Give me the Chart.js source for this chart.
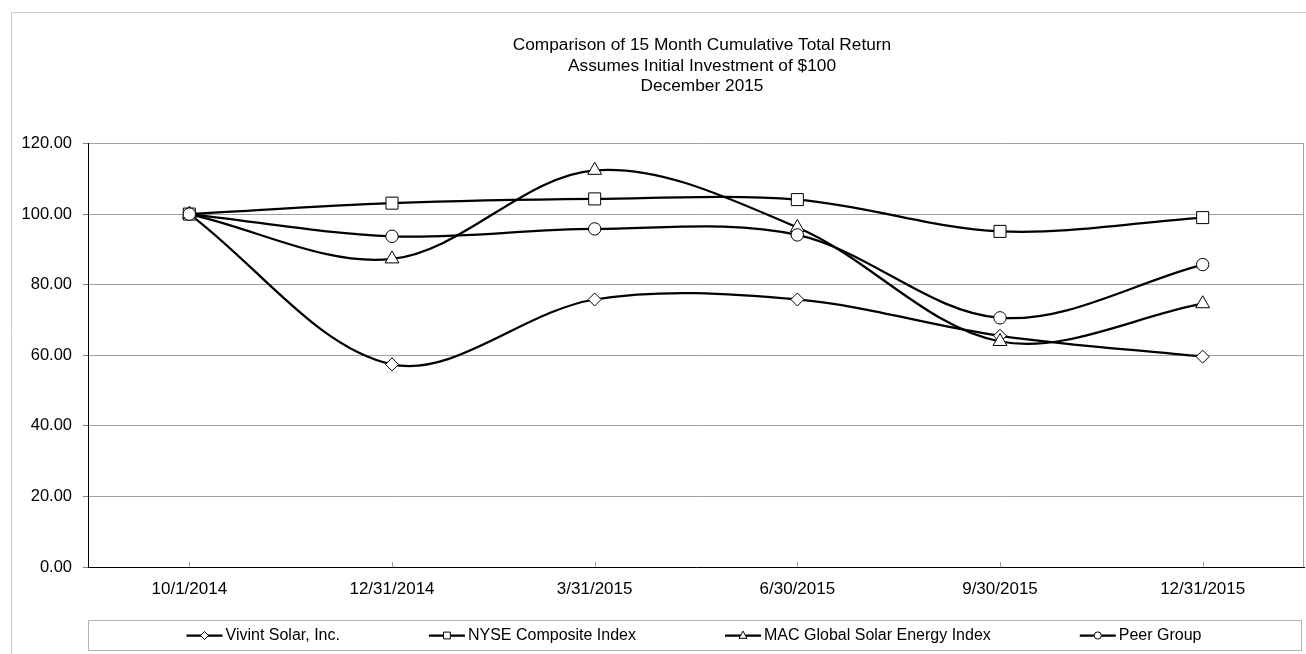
<!DOCTYPE html>
<html>
<head>
<meta charset="utf-8">
<script src="https://cdn.jsdelivr.net/npm/chart.js@4.4.1/dist/chart.umd.min.js"></script>
<style>
  html, body { margin: 0; padding: 0; background: #fff; }
  #wrap { position: relative; width: 1306px; height: 654px; }
</style>
</head>
<body>
<div id="wrap"><canvas id="returnChart"></canvas></div>
<script>
// quarter-end dates on the x axis
const quarters = ['10/1/2014', '12/31/2014', '3/31/2015', '6/30/2015', '9/30/2015', '12/31/2015'];
const yTicks = [0, 20, 40, 60, 80, 100, 120];

// cumulative value of $100
const vivintSolar = [100, 57.4, 75.8, 75.8, 65.5, 59.6];
const nyseComposite = [100, 103.1, 104.3, 104.1, 95.1, 99.0];
const macSolarIndex = [100, 87.3, 112.4, 96.2, 63.9, 74.6];
const peerGroup = [100, 93.7, 95.8, 94.1, 70.6, 85.7];

const seriesNames = ['Vivint Solar, Inc.', 'NYSE Composite Index', 'MAC Global Solar Energy Index', 'Peer Group'];
const titleLines = ['Comparison of 15 Month Cumulative Total Return', 'Assumes Initial Investment of $100', 'December 2015'];

const FONT = '"Liberation Sans", Arial, sans-serif';
const markerStyles = ['rectRot', 'rect', 'triangle', 'circle'];

// small marker drawer for the legend
function drawMarker(ctx, style, x, y, r) {
  ctx.beginPath();
  if (style === 'rectRot') {
    ctx.moveTo(x, y - r); ctx.lineTo(x + r, y); ctx.lineTo(x, y + r); ctx.lineTo(x - r, y); ctx.closePath();
  } else if (style === 'rect') {
    ctx.rect(x - r * 0.85, y - r * 0.85, 1.7 * r, 1.7 * r);
  } else if (style === 'triangle') {
    ctx.moveTo(x, y - r * 1.1); ctx.lineTo(x + r, y + r * 0.7); ctx.lineTo(x - r, y + r * 0.7); ctx.closePath();
  } else {
    ctx.arc(x, y, r * 0.9, 0, Math.PI * 2);
  }
  ctx.fillStyle = '#fff';
  ctx.fill();
  ctx.lineWidth = 1;
  ctx.strokeStyle = '#000';
  ctx.stroke();
}

const framePlugin = {
  id: 'frame',
  afterLayout(chart) {
    // the title sits a bit right of the canvas centre in the original
    chart.titleBlock.left = 100;
  },
  beforeDraw(chart) {
    const ctx = chart.ctx;
    ctx.save();
    ctx.strokeStyle = '#c8c8c8';
    ctx.lineWidth = 1;
    ctx.beginPath();
    ctx.moveTo(11.5, chart.height);
    ctx.lineTo(11.5, 12.5);
    ctx.lineTo(chart.width, 12.5);
    ctx.stroke();
    ctx.restore();
  },
  beforeDatasetsDraw(chart) {
    const {ctx, chartArea, scales} = chart;
    ctx.save();
    ctx.strokeStyle = '#a0a0a0';
    ctx.lineWidth = 1;
    ctx.beginPath();
    // right edge of plot
    ctx.moveTo(Math.round(chartArea.right) - 0.5, chartArea.top);
    ctx.lineTo(Math.round(chartArea.right) - 0.5, chartArea.bottom);
    // inward tick marks on the category axis
    quarters.forEach((q, i) => {
      const x = Math.round(scales.x.getPixelForValue(i)) + 0.5;
      ctx.moveTo(x, chartArea.bottom - 5);
      ctx.lineTo(x, chartArea.bottom);
    });
    ctx.stroke();
    ctx.restore();
  }
};

const legendPlugin = {
  id: 'legendBox',
  afterDraw(chart) {
    const {ctx, chartArea} = chart;
    const top = Math.round(chartArea.bottom) + 53.5;
    const h = 30;
    ctx.save();
    ctx.strokeStyle = '#b4b4b4';
    ctx.lineWidth = 1;
    ctx.strokeRect(Math.round(chartArea.left) + 0.5, top, Math.round(chartArea.right - chartArea.left) - 3, h);

    ctx.font = '16px ' + FONT;
    ctx.textBaseline = 'middle';
    ctx.textAlign = 'left';
    const gap = 89, lineLen = 36, textGap = 3;
    const widths = seriesNames.map(n => lineLen + textGap + ctx.measureText(n).width);
    const total = widths.reduce((a, b) => a + b, 0) + gap * (widths.length - 1);
    let x = 694 - total / 2;
    const cy = top + h / 2;
    seriesNames.forEach((name, i) => {
      ctx.strokeStyle = '#000';
      ctx.lineWidth = 2.25;
      ctx.beginPath();
      ctx.moveTo(x, cy);
      ctx.lineTo(x + lineLen, cy);
      ctx.stroke();
      drawMarker(ctx, markerStyles[i], x + lineLen / 2, cy, 4);
      ctx.fillStyle = '#000';
      ctx.fillText(name, x + lineLen + textGap, cy + 0.5);
      x += widths[i] + gap;
    });
    ctx.restore();
  }
};

function makeSeries(label, data, style, radius, order) {
  return {
    label: label,
    data: data,
    borderColor: '#000',
    borderWidth: 2.25,
    backgroundColor: '#fff',
    pointStyle: style,
    pointRadius: radius,
    pointBorderWidth: 1,
    pointBorderColor: '#000',
    pointBackgroundColor: '#fff',
    tension: 0.34,
    fill: false,
    order: order
  };
}

new Chart(document.getElementById('returnChart'), {
  type: 'line',
  data: {
    labels: quarters,
    datasets: [
      makeSeries(seriesNames[0], vivintSolar, 'rectRot', 6.5, 4),
      makeSeries(seriesNames[1], nyseComposite, 'rect', 8.5, 3),
      makeSeries(seriesNames[2], macSolarIndex, 'triangle', 8, 2),
      makeSeries(seriesNames[3], peerGroup, 'circle', 6.2, 1)
    ]
  },
  options: {
    responsive: true,
    maintainAspectRatio: false,
    animation: false,
    events: [],
    layout: { autoPadding: false, padding: { left: 0, right: 2, top: 0, bottom: 56 } },
    plugins: {
      legend: { display: false },
      tooltip: { enabled: false },
      title: {
        display: true,
        text: titleLines,
        color: '#000',
        font: { family: FONT, size: 17.3, weight: 'normal', lineHeight: '20.7px' },
        padding: { top: 34.7, bottom: 46.7 }
      }
    },
    scales: {
      x: {
        offset: true,
        grid: { display: true, drawOnChartArea: false, drawTicks: false },
        border: { display: true, color: '#000', width: 1 },
        ticks: { color: '#000', padding: 12, maxRotation: 0, font: { family: FONT, size: 17 } },
        afterFit(s) { s.height = 31; s.paddingLeft = 0; s.paddingRight = 0; }
      },
      y: {
        min: 0,
        max: 120,
        afterBuildTicks(s) { s.ticks = yTicks.map(v => ({ value: v })); },
        grid: { color: '#a0a0a0', lineWidth: 1, drawTicks: true, tickLength: 5, tickColor: '#808080' },
        border: { display: true, color: '#000', width: 1 },
        ticks: {
          color: '#000',
          padding: 11,
          font: { family: FONT, size: 16.5 },
          callback: v => Number(v).toFixed(2)
        },
        afterFit(s) { s.width = 88; }
      }
    }
  },
  plugins: [framePlugin, legendPlugin]
});
</script>
</body>
</html>
